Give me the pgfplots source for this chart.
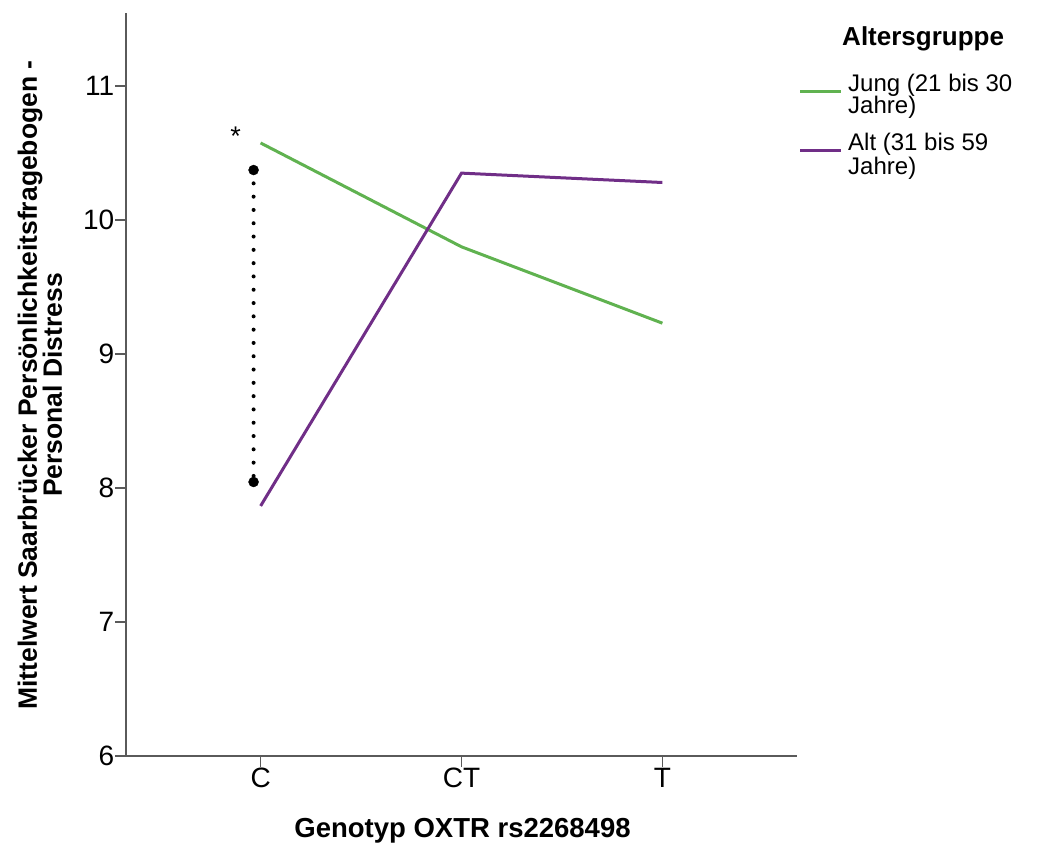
\documentclass[border=0pt]{standalone}
\usepackage{pgfplots}
\pgfplotsset{compat=1.18}
\usepackage{fontspec}
\setmainfont{Liberation Sans}
\definecolor{jung}{RGB}{96,178,80}
\definecolor{alt}{RGB}{112,46,135}
\definecolor{axgray}{RGB}{90,90,90}
\begin{document}
\begin{tikzpicture}[font=\fontsize{24}{24}\selectfont]
\begin{axis}[
  scale only axis,
  width=671pt, height=743pt,
  xmin=-0.67, xmax=2.67,
  ymin=6, ymax=11.545,
  axis x line=bottom, axis y line=left,
  axis line style={-, axgray, line width=1.3pt},
  xtick={0,1,2}, xticklabels={C,CT,T},
  ytick={6,7,8,9,10,11},
  tick align=outside,
  major tick length=11pt,
  tick style={axgray, line width=1.3pt},
  /pgf/number format/assume math mode=true,
  ticklabel style={font=\fontsize{28}{28}\selectfont},
  yticklabel style={inner sep=0.5pt},
  xticklabel style={inner sep=1pt},
  xlabel={\bfseries Genotyp OXTR rs2268498},
  xlabel style={at={(rel axis cs:0.5015,-0.1003)}, anchor=center, font=\fontsize{27.5}{27.5}\selectfont},
  ylabel={\bfseries Mittelwert Saarbrücker Persönlichkeitsfragebogen -\\\bfseries Personal Distress},
  ylabel style={at={(rel axis cs:-0.1282,0.4993)}, anchor=center, rotate=0, align=center, font=\fontsize{26.5}{25}\selectfont},
  clip=false,
]
\addplot[jung, line width=3pt] coordinates {(0,10.575) (1,9.80) (2,9.23)};
\addplot[alt, line width=3pt] coordinates {(0,7.866) (1,10.35) (2,10.28)};
\addplot[black, line width=4pt, line cap=round, dash pattern=on 0pt off 13.3pt] coordinates {(-0.035,10.373) (-0.035,8.045)};
\addplot[black, only marks, mark=*, mark size=5pt] coordinates {(-0.035,10.373) (-0.035,8.045)};
\node[anchor=base, inner sep=0pt, font=\fontsize{27}{27}\selectfont] at (axis cs:-0.124,10.555) {*};
% legend
\node[anchor=base west, inner sep=0pt, font=\fontsize{26}{26}\selectfont\bfseries] at (rel axis cs:1.0671,0.9556) {Altersgruppe};
\draw[jung, line width=3pt] (rel axis cs:1.0045,0.8937) -- (rel axis cs:1.0656,0.8937);
\draw[alt, line width=3pt] (rel axis cs:1.0045,0.8147) -- (rel axis cs:1.0656,0.8147);
\node[anchor=base west, inner sep=0pt] at (rel axis cs:1.0760,0.8950) {Jung (21 bis 30};
\node[anchor=base west, inner sep=0pt] at (rel axis cs:1.0760,0.8641) {Jahre)};
\node[anchor=base west, inner sep=0pt] at (rel axis cs:1.0760,0.8156) {Alt (31 bis 59};
\node[anchor=base west, inner sep=0pt] at (rel axis cs:1.0760,0.7833) {Jahre)};
\path (rel axis cs:-0.1878,-0.1225) rectangle (rel axis cs:1.3636,1.0175);
\end{axis}
\end{tikzpicture}
\end{document}
